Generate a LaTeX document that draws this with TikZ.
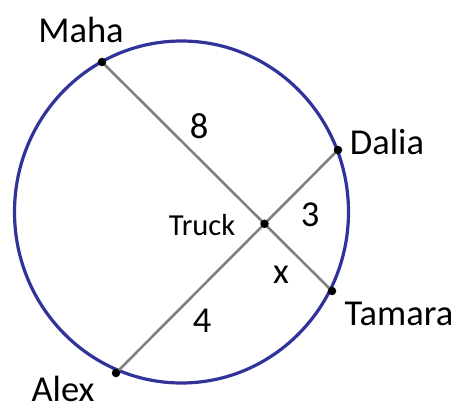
\documentclass[tikz,border=0pt]{standalone}
\usepackage{fontspec}
\setmainfont{Carlito}
\usepackage{tikz}
\usetikzlibrary{positioning,calc}
\definecolor{ring}{HTML}{31339A}
\definecolor{chord}{HTML}{808080}
\tikzset{pt/.style={circle,fill=black,inner sep=0pt,minimum size=8.5pt}, seg/.style={draw=chord,line width=2.6pt}, person/.style={font=\fontsize{36.5}{40}\selectfont,anchor=base,inner sep=0pt}, len/.style={font=\fontsize{36.5}{40}\selectfont,anchor=base,inner sep=0pt}}

\begin{document}
\begin{tikzpicture}[x=1pt,y=-1pt]
\useasboundingbox (0,0) rectangle (456,407);
\draw[ring,line width=3.2pt] (181.5,212) ellipse [x radius=167,y radius=171];
\coordinate (maha) at (102,62);
\coordinate (dalia) at (338,150);
\coordinate (tamara) at (332,291);
\coordinate (alex) at (116,373);
\coordinate (truck) at (intersection of maha--tamara and alex--dalia);
\draw[seg] (maha)--(tamara);
\draw[seg] (alex)--(dalia);
\node[pt] (mahapt) at (maha) {};
\node[pt] (daliapt) at (dalia) {};
\node[pt] (tamarapt) at (tamara) {};
\node[pt] (alexpt) at (alex) {};
\node[pt] (truckpt) at (truck) {};
\node[person] (mahalbl) at (81,42) {Maha};
\node[person] (dalialbl) at (387,154) {Dalia};
\node[person] (tamaralbl) at (399,325) {Tamara};
\node[person] (alexlbl) at (63,401) {Alex};
\node[person,font=\fontsize{30.5}{34}\selectfont] (trucklbl) at (202,235) {Truck};
\node[len] (eight) at (199,138) {8};
\node[len] (three) at (310,226) {3};
\node[len] (four) at (202,332) {4};
\node[len] (ex) at (281,283) {x};
\end{tikzpicture}
\end{document}
